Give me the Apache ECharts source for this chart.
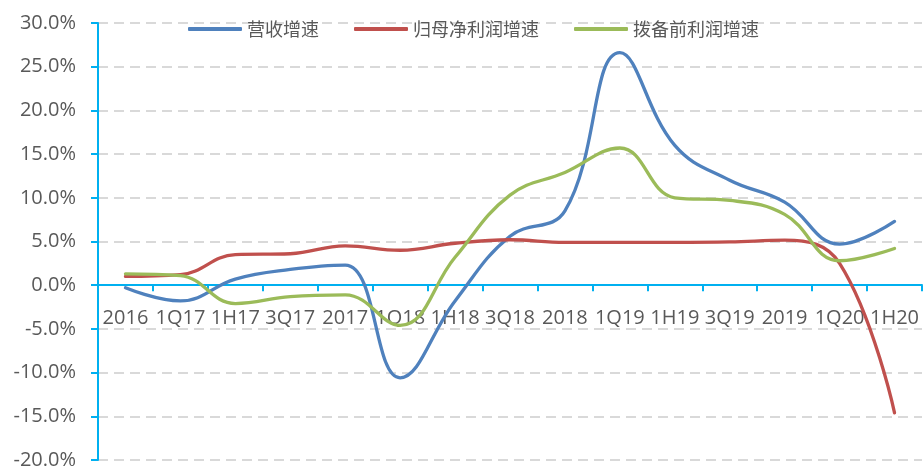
<!DOCTYPE html>
<html>
<head>
<meta charset="utf-8">
<script src="https://cdn.jsdelivr.net/npm/echarts@6/dist/echarts.min.js"></script>
<style>
html,body{margin:0;padding:0;background:#fff;}
#chart{width:923px;height:468px;}
</style>
</head>
<body>
<div id="chart"></div>
<script>
const categories = ['2016','1Q17','1H17','3Q17','2017','1Q18','1H18','3Q18','2018','1Q19','1H19','3Q19','2019','1Q20','1H20'];
const seriesNames = ['营收增速','归母净利润增速','拨备前利润增速'];
const revenueGrowth = [-0.3, -1.8, 0.7, 1.8, 2.3, -10.6, -1.8, 5.6, 8.5, 26.6, 16.0, 12.0, 9.5, 4.7, 7.3];
const netProfitGrowth = [1.0, 1.2, 3.5, 3.6, 4.5, 4.0, 4.8, 5.2, 4.9, 4.9, 4.9, 4.95, 5.15, 2.5, -14.6];
const ppopGrowth = [1.3, 1.1, -2.1, -1.3, -1.1, -4.6, 3.2, 10.3, 12.9, 15.7, 10.0, 9.7, 8.1, 2.8, 4.2];
const yMin = -20, yMax = 30, yStep = 5;

const colors = ['#4F81BD', '#C0504D', '#9BBB59'];
const axisBlue = '#00B0F0';
const textGray = '#595959';
const latinFont = '"Open Sans", "Noto Sans", sans-serif';
const cjkFont = '"Noto Sans CJK SC", sans-serif';

const W = 923, H = 468;
const gridTop = 23, gridBottom = 8, gridLeft = 98, gridRight = 1;
const gridHeight = H - gridTop - gridBottom;
// distance from grid bottom up to the zero line, so category labels sit under the zero axis
const zeroOffset = -gridHeight * (0 - yMin) / (yMax - yMin);

const chart = echarts.init(document.getElementById('chart'), null, {renderer: 'canvas'});
const dataSets = [revenueGrowth, netProfitGrowth, ppopGrowth];

chart.setOption({
  animation: false,
  backgroundColor: '#ffffff',
  color: colors,
  legend: {
    top: 20,
    left: 188,
    padding: 0,
    icon: 'roundRect',
    itemWidth: 54,
    itemHeight: 4,
    itemGap: 35,
    textStyle: {fontFamily: cjkFont, fontSize: 18, color: textGray},
    data: seriesNames
  },
  grid: {left: gridLeft, right: gridRight, top: gridTop, bottom: gridBottom, containLabel: false, outerBoundsMode: 'none'},
  xAxis: [{
    type: 'category',
    data: categories,
    boundaryGap: true,
    axisLine: {onZero: true, lineStyle: {color: axisBlue, width: 2}},
    axisTick: {show: true, alignWithLabel: false, length: 6, lineStyle: {color: axisBlue, width: 2}},
    axisLabel: {show: false},
    splitLine: {show: false}
  }, {
    type: 'category',
    data: categories,
    boundaryGap: true,
    position: 'bottom',
    offset: zeroOffset,
    axisLine: {show: false, onZero: false},
    axisTick: {show: false},
    axisLabel: {show: true, interval: 0, margin: 23, fontFamily: latinFont, fontSize: 20, color: textGray},
    splitLine: {show: false}
  }],
  yAxis: {
    type: 'value',
    min: yMin,
    max: yMax,
    interval: yStep,
    axisLine: {show: true, lineStyle: {color: axisBlue, width: 2}},
    axisTick: {show: true, length: 7, lineStyle: {color: axisBlue, width: 2}},
    axisLabel: {margin: 22, fontFamily: latinFont, fontSize: 20, color: textGray,
      formatter: v => v.toFixed(1) + '%'},
    splitLine: {show: true, lineStyle: {color: '#D9D9D9', width: 2, type: [10, 6]}}
  },
  series: seriesNames.map((name, i) => ({
    name: name,
    type: 'line',
    xAxisIndex: 0,
    data: dataSets[i],
    smooth: 0.42,
    symbol: 'none',
    lineStyle: {width: 3.3, color: colors[i], cap: 'round'},
    itemStyle: {color: colors[i]}
  }))
});
</script>
</body>
</html>
